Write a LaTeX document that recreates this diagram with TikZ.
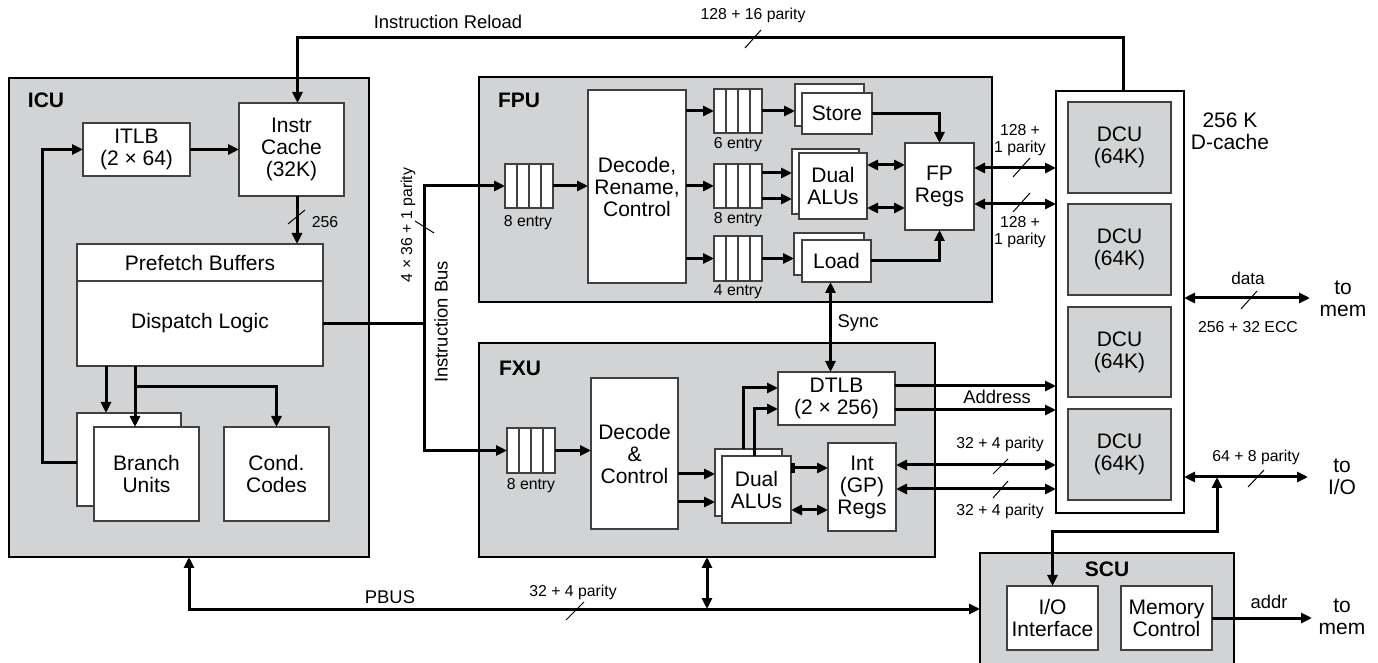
\documentclass[tikz,border=0pt]{standalone}
\usepackage{fontspec}
\setmainfont{Liberation Sans}
\usetikzlibrary{arrows.meta,calc}
\definecolor{ugray}{HTML}{D1D3D4}
\newcommand{\blk}[7]{\node[#2,minimum width={((#5)-(#3))*0.5pt},minimum height={((#6)-(#4))*0.5pt}] (#1) at ({((#3)+(#5))/2},{((#4)+(#6))/2}) {#7};}
\tikzset{
  >={Triangle[length=5.5pt,width=5pt]},
  unit/.style={draw=black, line width=1.4pt, fill=ugray, inner sep=0pt, outer sep=0pt},
  dcbox/.style={draw=black, line width=1.4pt, fill=white, inner sep=0pt, outer sep=0pt},
  box/.style={draw=black!75, line width=0.7pt, fill=white, inner sep=0pt, outer sep=0pt, align=center, font=\fontsize{10.5}{11}\selectfont},
  dcu/.style={box, fill=ugray},
  queue/.style={box, path picture={\foreach \k in {1,2,3}{\draw[black!75,line width=0.7pt] ($(path picture bounding box.south west)!\k/4!(path picture bounding box.south east)$) -- ($(path picture bounding box.north west)!\k/4!(path picture bounding box.north east)$);}}},
  bus/.style={line width=1.5pt},
  slashmark/.style={line width=0.5pt},
  small/.style={font=\fontsize{7.9}{8.6}\selectfont, align=center, inner sep=0pt},
  lbl/.style={font=\fontsize{9.2}{11}\selectfont, align=center, inner sep=0pt},
  big/.style={font=\fontsize{10.5}{11}\selectfont, align=center, inner sep=0pt},
  unitlabel/.style={font=\fontsize{10.5}{12}\selectfont\bfseries, inner sep=0pt},
}
\begin{document}
\begin{tikzpicture}[x=0.5pt,y=-0.5pt]
\useasboundingbox (0,0) rectangle (1378,663);
\fill[white] (0,0) rectangle (1378,663);

% ---------- ICU ----------
\blk{icu}{unit}{9}{78}{369}{557}{}
\node[unitlabel] (icut) at (46,100) {ICU};
\blk{itlb}{box}{83}{123}{190}{176}{ITLB\\(2 × 64)}
\blk{ic}{box}{239}{103}{344}{196}{Instr\\Cache\\(32K)}
\blk{pf}{box}{77}{244}{323}{281}{Prefetch Buffers}
\blk{dl}{box}{77}{281}{323}{366}{Dispatch Logic}
\blk{bu2}{box}{77}{413}{181}{506}{}
\blk{bu}{box}{94}{427}{199}{521}{Branch\\Units}
\blk{cc}{box}{224}{427}{329}{521}{Cond.\\Codes}

% ---------- FPU ----------
\blk{fpu}{unit}{479}{77}{992}{302}{}
\node[unitlabel] (fput) at (519,100) {FPU};
\blk{fq}{queue}{505}{164}{553}{208}{}
\node[small] (fql) at (528,223) {8 entry};
\blk{fdec}{box}{588}{90}{686}{283}{Decode,\\Rename,\\Control}
\blk{q6}{queue}{714}{89}{762}{133}{}
\node[small] (q6l) at (738,145) {6 entry};
\blk{q8}{queue}{714}{164}{762}{208}{}
\node[small] (q8l) at (738,220) {8 entry};
\blk{q4}{queue}{714}{236}{762}{281}{}
\node[small] (q4l) at (738,292) {4 entry};
\blk{st2}{box}{795}{84}{864}{126}{}
\blk{st}{box}{802}{93}{872}{134}{Store}
\blk{fa2}{box}{792}{149}{859}{214}{}
\blk{fa}{box}{799}{153}{867}{219}{Dual\\ALUs}
\blk{ld2}{box}{794}{233}{864}{275}{}
\blk{ld}{box}{802}{240}{871}{282}{Load}
\blk{fr}{box}{905}{143}{974}{230}{FP\\Regs}

% ---------- FXU ----------
\blk{fxu}{unit}{479}{343}{935}{557}{}
\node[unitlabel] (fxut) at (520,368) {FXU};
\blk{xq}{queue}{507}{428}{555}{473}{}
\node[small] (xql) at (531,486) {8 entry};
\blk{xdec}{box}{591}{378}{678}{529}{Decode\\\&\\Control}
\blk{xa2}{box}{715}{449}{782}{516}{}
\blk{xa}{box}{722}{456}{791}{523}{Dual\\ALUs}
\blk{dt}{box}{778}{372}{895}{425}{DTLB\\(2 × 256)}
\blk{xr}{box}{828}{443}{896}{531}{Int\\(GP)\\Regs}

% ---------- D-cache ----------
\blk{dc}{dcbox}{1056}{91}{1184}{513}{}
\blk{d1}{dcu}{1068}{102}{1171}{193}{DCU\\(64K)}
\blk{d2}{dcu}{1068}{204}{1171}{295}{DCU\\(64K)}
\blk{d3}{dcu}{1068}{307}{1171}{397}{DCU\\(64K)}
\blk{d4}{dcu}{1068}{409}{1171}{500}{DCU\\(64K)}
\node[big] (dct) at (1230,131) {256 K\\D-cache};

% ---------- SCU ----------
\blk{scu}{unit}{980}{553}{1234}{670}{}
\node[unitlabel] (scut) at (1107,569) {SCU};
\blk{io}{box}{1007}{586}{1098}{650}{I/O\\Interface}
\blk{mc}{box}{1121}{586}{1212}{650}{Memory\\Control}

% ---------- ICU connectors ----------
\draw[bus,->] (itlb.east) -- (itlb.east -| ic.west);
\draw[bus,->] ([yshift=-1.75pt]bu2.west) -- ++(-35,0) |- (itlb.west);
\draw[bus,->] ([xshift=2.75pt]ic.south) -- ++(0,48);
\draw[slashmark] (288,224) -- (305,210);
\node[small] (l256) at (325,222) {256};
\draw[bus,<-] ([xshift=-11.5pt]bu2.north) -- ++(0,-47);
\draw[bus,<-] ([xshift=-5.75pt]bu.north) -- ++(0,-61);
\coordinate (br) at (135,387);
\draw[bus,->] (br) -| (cc.north);

% ---------- reload ----------
\draw[bus,->] ([xshift=1.5pt]dc.north) -- ++(0,-53) -| ([xshift=3pt]ic.north);
\draw[slashmark] (745,48) -- (761,30);
\node[small] (l128) at (753,15) {128 + 16 parity};
\node[lbl] (lrel) at (448,22) {Instruction Reload};

% ---------- instruction bus ----------
\coordinate (ib) at (424,323.5);
\draw[bus] (dl.east) -- (ib);
\draw[bus,->] (ib) |- (fq.west);
\draw[bus,->] (ib) |- (xq.west);
\node[small,rotate=90] (libw) at (408,225) {4 × 36 + 1 parity};
\draw[slashmark] (415,221) -- (434,233);
\node[lbl,rotate=90] (lib) at (441,322) {Instruction Bus};

% ---------- FPU connectors ----------
\draw[bus,->] (fq.east) -- (fq.east -| fdec.west);
\draw[bus,->] (fdec.east |- q6.west) -- (q6.west);
\draw[bus,->] (fdec.east |- q8.west) -- (q8.west);
\draw[bus,->] (fdec.east |- q4.west) -- (q4.west);
\draw[bus,->] (q6.east) -- (q6.east -| st2.west);
\draw[bus,->] ([yshift=6.5pt]q8.east) -- ++(30,0);
\draw[bus,->] ([yshift=-6.5pt]q8.east) -- ++(30,0);
\draw[bus,->] (q4.east) -- (q4.east -| ld2.west);
\draw[bus,<->] ([yshift=10.5pt]fa.east) -- ++(38,0);
\draw[bus,<->] ([yshift=-11pt]fa.east) -- ++(38,0);
\draw[bus,->] (st.east) -| (fr.north);
\draw[bus,->] (ld.east) -| (fr.south);
\draw[bus,<->] ([yshift=9.25pt]fr.east) -- ++(82,0);
\draw[bus,<->] ([yshift=-8.75pt]fr.east) -- ++(82,0);
\node[small] (lp1) at (1020,140) {128 +\\1 parity};
\draw[slashmark] (1013,177) -- (1030,158);
\node[small] (lp2) at (1020,232) {128 +\\1 parity};
\draw[slashmark] (1013,212) -- (1030,193);
\draw[bus,<->] ([xshift=-3pt]ld.south) -- ++(0,90);
\node[lbl] (lsync) at (858,323) {Sync};

% ---------- FXU connectors ----------
\draw[bus,->] (xq.east) -- (xq.east -| xdec.west);
\draw[bus,<-] ([yshift=4.25pt]xa2.west) -- ++(-37,0);
\draw[bus,<-] ([yshift=-9.75pt]xa2.west) -- ++(-37,0);
\draw[bus,->] ([xshift=-2.75pt]xa2.north) |- ([yshift=5.25pt]dt.west);
\draw[bus,->] ([xshift=-1.25pt]xa.north) |- ([yshift=-5.25pt]dt.west);
\draw[bus,{Bar[width=5pt,line width=2pt]}-{Triangle[length=5.5pt,width=5pt]}] ([yshift=10.75pt]xa.east) -- ++(37,0);
\draw[bus,<->] ([yshift=-10.25pt]xa.east) -- ++(37,0);
\draw[bus,->] ([yshift=6.25pt]dt.east) -- ++(161,0);
\draw[bus,->] ([yshift=-5.75pt]dt.east) -- ++(161,0);
\node[lbl] (laddr) at (997,397) {Address};
\draw[bus,<->] ([yshift=11pt]xr.east) -- ++(160,0);
\draw[bus,<->] ([yshift=-1pt]xr.east) -- ++(160,0);
\node[small] (lx1) at (1000,444) {32 + 4 parity};
\draw[slashmark] (993,474) -- (1008,459);
\node[small] (lx2) at (1000,511) {32 + 4 parity};
\draw[slashmark] (993,498) -- (1008,481);

% ---------- D-cache external ----------
\draw[bus,<->] ([yshift=2pt]dc.east) -- ++(126,0);
\node[big] (tm1) at (1343,298.5) {to\\mem};
\node[small,font=\fontsize{8.6}{9}\selectfont] (ldata) at (1248,278) {data};
\node[small] (lecc) at (1248,327) {256 + 32 ECC};
\draw[slashmark] (1241,309) -- (1257,291);
\draw[bus,<->] ([yshift=-87.5pt]dc.east) -- ++(124,0);
\node[small] (l64) at (1256,457) {64 + 8 parity};
\draw[slashmark] (1248,487) -- (1264,470);
\node[big] (tio) at (1342,477) {to\\I/O};
\coordinate (j1) at (1217,477);
\coordinate (j2) at (1217,532);
\draw[bus,<->] (io.north) |- (j2) -- (j1);
\draw[bus,->] (mc.east) -- ++(100,0);
\node[lbl] (laddr2) at (1269,602) {addr};
\node[big] (tm2) at (1342,617) {to\\mem};

% ---------- PBUS ----------
\draw[bus,<->] (icu.south) |- ([yshift=1.25pt]scu.west);
\draw[bus,<->] (fxu.south) -- ++(0,52);
\node[lbl] (lpbus) at (390,597) {PBUS};
\node[small] (lpb) at (573,592) {32 + 4 parity};
\draw[slashmark] (566,620) -- (584,602);
\end{tikzpicture}
\end{document}
